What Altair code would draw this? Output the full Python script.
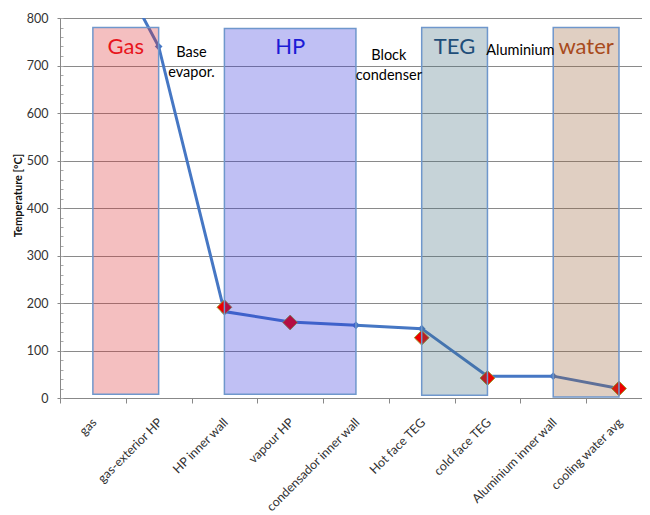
import json
import altair as alt
import pandas as pd

# ---------------- data ----------------
categories = ["gas", "gas-exterior HP", "HP inner wall", "vapour HP",
              "condensador inner wall", "Hot face TEG", "cold face TEG",
              "Aluminium inner wall", "cooling water avg"]
model_temp = [1000, 740, 182, 160, 153, 146, 46, 46, 20]

measured_cats = ["HP inner wall", "vapour HP", "Hot face TEG", "cold face TEG", "cooling water avg"]
measured_temp = [191, 159, 127, 42, 20]

zone_names = ["Gas", "HP", "TEG", "water"]
zone_from = ["gas", "HP inner wall", "Hot face TEG", "Aluminium inner wall"]
zone_to = ["gas-exterior HP", "condensador inner wall", "cold face TEG", "cooling water avg"]
zone_top = [780, 778, 780, 780]
zone_bottom = [8, 8, 6, 2]

notes = ["Base\nevapor.", "Block\ncondenser", "Aluminium"]   # between consecutive zones
note_temp = [727, 720, 730]

y_ticks = list(range(0, 801, 100))
y_minor = list(range(0, 801, 20))

# ---------------- styles ----------------
zone_fill = ["#da2a30", "#2d2dda", "#416c7d", "#985f34"]
zone_text = ["#e8141c", "#1c1cd6", "#1f4e79", "#a84a1c"]
zone_font = [22, 22, 22, 17.5]
note_font = [14.5, 14.5, 15.5]
FONT = "Lato"

# ---------------- tables ----------------
pos = {c: i + 0.5 for i, c in enumerate(categories)}
line_df = pd.DataFrame({"cat": categories, "x": [pos[c] for c in categories], "temp": model_temp})
meas_df = pd.DataFrame({"cat": measured_cats, "x": [pos[c] for c in measured_cats], "temp": measured_temp})
zones_df = pd.DataFrame({
    "zone": zone_names,
    "x": [pos[c] for c in zone_from],
    "x2": [pos[c] for c in zone_to],
    "top": zone_top,
    "bottom": zone_bottom,
})
zones_df["xc"] = (zones_df["x"] + zones_df["x2"]) / 2
notes_df = pd.DataFrame({
    "note": notes,
    "x": [(pos[zone_to[i]] + pos[zone_from[i + 1]]) / 2 for i in range(len(notes))],
    "temp": note_temp,
})

xscale = alt.Scale(domain=[0, 8.85], nice=False, zero=False, padding=0)
yscale = alt.Scale(domain=[0, 800], nice=False, zero=False)

label_expr = "datum.value < %d ? %s[datum.value] : ''" % (len(categories), json.dumps(categories))

x_axis = alt.Axis(values=list(range(len(categories))), labelExpr=label_expr, labelAngle=-45,
                  labelAlign="right", labelBaseline="middle", labelOffset=34, labelPadding=17,
                  labelFlush=False, labelOverlap=False, labelFont=FONT, labelFontSize=12.4,
                  labelColor="#333333", tickSize=5, tickColor="#888888", domainColor="#888888",
                  grid=False, title=None, orient="bottom")
y_axis = alt.Axis(values=y_ticks, grid=True, gridColor="#8a8a8a", gridWidth=1, tickSize=3,
                  tickColor="#888888", domainColor="#888888", labelFont=FONT, labelFontSize=12.5,
                  labelColor="#333333", labelPadding=9, title="Temperature [ºC]", titleFont=FONT,
                  titleFontSize=11, titleFontWeight="bold", titleColor="#111111", titleX=-42,
                  titleY=177, titleAlign="center", titleBaseline="middle", orient="left")
y_minor_axis = alt.Axis(values=y_minor, labels=False, grid=False, domain=False, tickSize=3,
                        tickColor="#aaaaaa", offset=-3, title=None, orient="left")

X = lambda f: alt.X(f, scale=xscale, axis=x_axis)

line = alt.Chart(line_df).mark_line(color="#4677c4", strokeWidth=3, clip=True).encode(
    x=X("x:Q"),
    y=alt.Y("temp:Q", scale=yscale, axis=y_minor_axis),
)
line_pts = alt.Chart(line_df).mark_point(shape="diamond", filled=True, size=60, color="#4677c4",
                                         opacity=1, clip=True).encode(
    x=X("x:Q"),
    y=alt.Y("temp:Q", scale=yscale, axis=None),
)
meas = alt.Chart(meas_df).mark_point(shape="diamond", filled=True, size=220, fill="#ee0000",
                                     stroke="#9c9c30", strokeWidth=1, opacity=1).encode(
    x=X("x:Q"),
    y=alt.Y("temp:Q", scale=yscale, axis=None),
)
boxes = alt.Chart(zones_df).mark_rect(fillOpacity=0.3, stroke="#6f97cc", strokeWidth=1.5,
                                      strokeOpacity=1).encode(
    x=X("x:Q"),
    x2="x2",
    y=alt.Y("top:Q", scale=yscale, axis=y_axis),
    y2="bottom",
    color=alt.Color("zone:N", scale=alt.Scale(domain=zone_names, range=zone_fill), legend=None),
)
zone_labels = alt.Chart(zones_df).mark_text(font=FONT, baseline="middle", align="center", dy=19).encode(
    x=X("xc:Q"),
    y=alt.Y("top:Q", scale=yscale, axis=None),
    text="zone:N",
    color=alt.Color("zone:N", scale=alt.Scale(domain=zone_names, range=zone_text), legend=None),
    size=alt.Size("zone:N", scale=alt.Scale(domain=zone_names, range=zone_font), legend=None),
)
note_labels = alt.Chart(notes_df).mark_text(font=FONT, color="#000000", lineBreak="\n",
                                            lineHeight=20, baseline="middle", align="center").encode(
    x=X("x:Q"),
    y=alt.Y("temp:Q", scale=yscale, axis=None),
    text="note:N",
    size=alt.Size("note:N", scale=alt.Scale(domain=notes, range=note_font), legend=None),
)

chart = alt.layer(line, line_pts, meas, boxes, zone_labels, note_labels).resolve_scale(
    color="independent", size="independent"
).resolve_axis(y="independent").properties(
    width=582, height=380, autosize="none",
    padding={"left": 52, "top": 10, "right": 0, "bottom": 117},
    background="white",
).configure_view(strokeWidth=0)

chart.save("out.html", embed_options={"renderer": "svg", "actions": False})
